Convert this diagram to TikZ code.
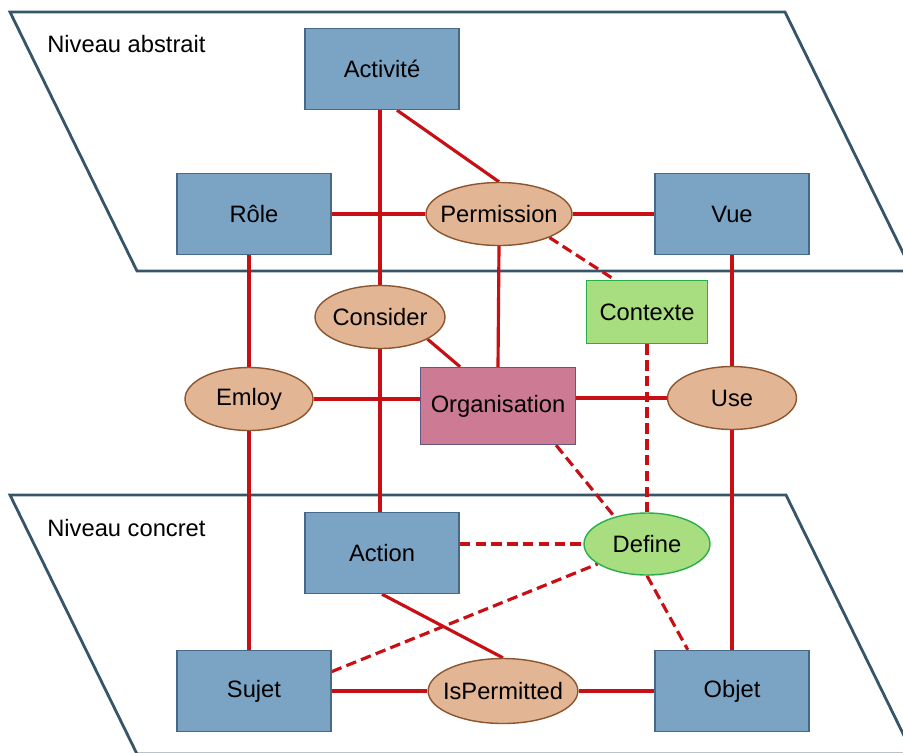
\documentclass[tikz,border=0pt]{standalone}
\usepackage{fontspec}
\setmainfont{Liberation Sans}
\usetikzlibrary{shapes.geometric,backgrounds}
\definecolor{boxblue}{RGB}{123,164,196}
\definecolor{boxedge}{RGB}{70,105,135}
\definecolor{ovalfill}{RGB}{226,181,149}
\definecolor{ovaledge}{RGB}{140,85,45}
\definecolor{ctxfill}{RGB}{168,221,128}
\definecolor{ctxedge}{RGB}{40,175,75}
\definecolor{orgfill}{RGB}{205,122,148}
\definecolor{orgedge}{RGB}{100,85,130}
\definecolor{linkred}{RGB}{200,15,20}
\definecolor{planeedge}{RGB}{55,85,105}
\tikzset{
  every node/.style={font=\fontsize{13.5}{16}\selectfont},
  entity/.style={rectangle, draw=boxedge, fill=boxblue, line width=0.8pt, minimum width=3.08cm, minimum height=1.62cm},
  relation/.style={ellipse, draw=ovaledge, fill=ovalfill, line width=0.8pt, inner xsep=-4pt, inner ysep=0pt, minimum height=1.26cm},
  ctxbox/.style={rectangle, draw=ctxedge, fill=ctxfill, line width=0.8pt, minimum width=2.42cm, minimum height=1.26cm},
  orgbox/.style={rectangle, draw=orgedge, fill=orgfill, line width=0.8pt, minimum width=3.1cm, minimum height=1.54cm},
  link/.style={draw=linkred, line width=1.8pt},
  dlink/.style={link, dash pattern=on 6pt off 3pt},
  plane/.style={draw=planeedge, line width=1.6pt}
}
\begin{document}
\begin{tikzpicture}[x=0.02cm, y=-0.02cm]
    \useasboundingbox (0,0) rectangle (903,752);
    % Level labels
    \node[anchor=west, inner sep=0pt] (abstrait) at (47,44) {Niveau abstrait};
    \node[anchor=west, inner sep=0pt] (concret) at (47,528) {Niveau concret};
    % Abstract level
    \node[entity] (act) at (382,69) {Activité};
    \node[entity] (role) at (254,214) {Rôle};
    \node[relation, minimum width=2.86cm] (perm) at (499,214) {Permission};
    \node[entity] (vue) at (732,214) {Vue};
    % Between the levels
    \node[relation, minimum width=2.6cm] (cons) at (380,317) {Consider};
    \node[ctxbox] (ctx) at (647,312) {Contexte};
    \node[relation, minimum width=2.56cm] (emp) at (249,399) {Emloy};
    \node[orgbox] (org) at (498,406) {Organisation};
    \node[relation, minimum width=2.58cm] (use) at (732,398) {Use};
    % Concrete level
    \node[entity] (action) at (382,553) {Action};
    \node[ellipse, draw=ctxedge, fill=ctxfill, line width=0.8pt, inner xsep=-4pt, inner ysep=0pt, minimum width=2.52cm, minimum height=1.24cm] (def) at (647,544) {Define};
    \node[entity] (sujet) at (254,691) {Sujet};
    \node[relation, minimum width=2.96cm, minimum height=1.3cm] (isp) at (503,691) {IsPermitted};
    \node[entity] (objet) at (732,691) {Objet};
    \begin{pgfonlayer}{background}
        % Planes
        \begin{scope}
            \clip (0,0) rectangle (903,752);
            \draw[plane] (10,12) -- (785,12) -- (912,271) -- (137,271) -- cycle;
            \draw[plane] (10,495) -- (786,495) -- (913,754) -- (137,754) -- cycle;
        \end{scope}
        % Solid links
        \draw[link] (act.south -| cons) -- (cons.north);
        \draw[link] (act.-70) -- (perm.north);
        \draw[link] (role.east) -- (perm.west);
        \draw[link] (perm.east) -- (vue.west);
        \draw[link] (perm.south) -- (org.north);
        \draw[link] (cons.-25) -- (org.134);
        \draw[link] (emp.north |- role.south) -- (emp.north);
        \draw[link] (emp.east) -- (emp.east -| org.west);
        \draw[link] (org.east |- use.west) -- (use.west);
        \draw[link] (vue.south) -- (use.north);
        \draw[link] (cons.south) -- (cons.south |- action.north);
        \draw[link] (emp.south) -- (emp.south |- sujet.north);
        \draw[link] (use.south) -- (objet.north);
        \draw[link] (action.south) -- (isp.north);
        \draw[link] (sujet.east) -- (isp.west);
        \draw[link] (isp.east) -- (objet.west);
        % Dashed links
        \draw[dlink] (perm.-25) -- (ctx.135);
        \draw[dlink] (ctx.south) -- (def.north);
        \draw[dlink] (org.-34) -- (def.140);
        \draw[dlink] (action.east |- def.west) -- (def.west);
        \draw[dlink] (sujet.14) -- (def.202);
        \draw[dlink] (def.south) -- (objet.137);
    \end{pgfonlayer}
\end{tikzpicture}
\end{document}
